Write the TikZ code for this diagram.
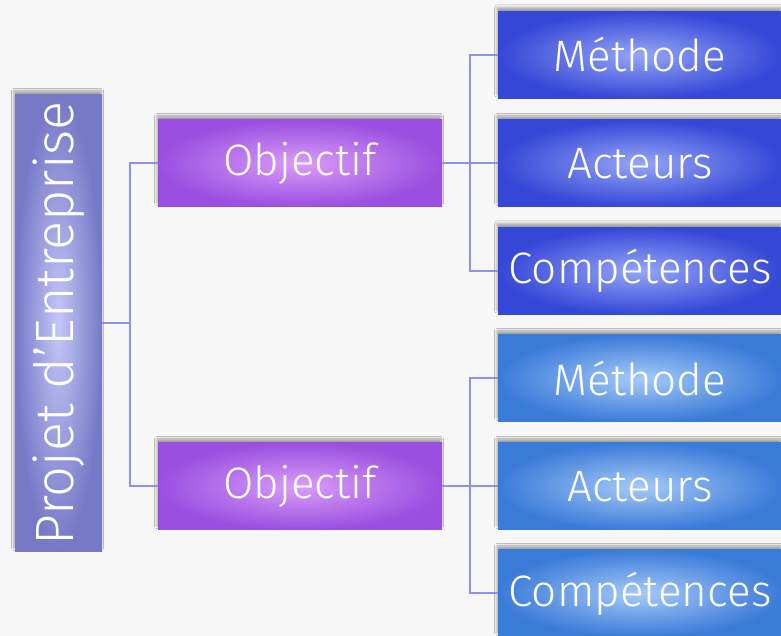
\documentclass[tikz,border=0pt]{standalone}
\usepackage{fontspec}
\setmainfont{Fira Sans Light}
\usetikzlibrary{shadows.blur}
\definecolor{pageBg}{HTML}{F7F7F7}
\definecolor{linkColor}{HTML}{8F8FF0}
\definecolor{rootOut}{HTML}{7579C6}
\definecolor{rootIn}{HTML}{C3C7F8}
\definecolor{objOut}{HTML}{9A4FE0}
\definecolor{objIn}{HTML}{DA9CF8}
\definecolor{blueAOut}{HTML}{3447D6}
\definecolor{blueAIn}{HTML}{96A6F7}
\definecolor{blueBOut}{HTML}{3B7BD8}
\definecolor{blueBIn}{HTML}{A6CAF8}

\begin{document}
\begin{tikzpicture}[x=1pt, y=1pt,
    every node/.style={text=white, font=\fontsize{44}{50}\selectfont},
    box/.style={rectangle, minimum width=284, minimum height=87, inner sep=0pt,
      blur shadow={shadow xshift=-1pt, shadow yshift=4pt,
        shadow blur radius=2.5pt, shadow opacity=35}},
    rootbox/.style={box, minimum width=87, minimum height=457,
      inner color=rootIn, outer color=rootOut, font=\fontsize{54}{60}\selectfont},
    objbox/.style={box, inner color=objIn, outer color=objOut},
    topbox/.style={box, inner color=blueAIn, outer color=blueAOut},
    lowbox/.style={box, inner color=blueBIn, outer color=blueBOut},
    link/.style={draw=linkColor, line width=2}]
    % Page
    \useasboundingbox (0,0) rectangle (781,636);
    \fill[pageBg] (0,0) rectangle (781,636);
    % Root
    \node[rootbox] (root) at (58.5,312.5) {\rotatebox{90}{Projet d'Entreprise}};
    % Objectives
    \node[objbox] (obj1) at (300,472.5) {Objectif};
    \node[objbox] (obj2) at (300,149.5) {Objectif};
    % Children
    \foreach \y/\lab/\nm in {581/Méthode/m1, 472.5/Acteurs/a1, 365/Compétences/c1} {
      \node[topbox] (\nm) at (640,\y) {\lab};
    }
    \foreach \y/\lab/\nm in {257.5/Méthode/m2, 149.5/Acteurs/a2, 42.5/Compétences/c2} {
      \node[lowbox] (\nm) at (640,\y) {\lab};
    }
    % Links
    \draw[link] (root.east) -- ++(28,0) coordinate (busA);
    \draw[link] (obj1.west) -| (busA);
    \draw[link] (obj2.west) -| (busA);
    \draw[link] (obj1.east) -- ++(28,0) coordinate (busB);
    \draw[link] (obj2.east) -- ++(28,0) coordinate (busC);
    \foreach \nm in {m1,a1,c1} {
      \draw[link] (\nm.west) -| (busB);
    }
    \foreach \nm in {m2,a2,c2} {
      \draw[link] (\nm.west) -| (busC);
    }
  \end{tikzpicture}
\end{document}
